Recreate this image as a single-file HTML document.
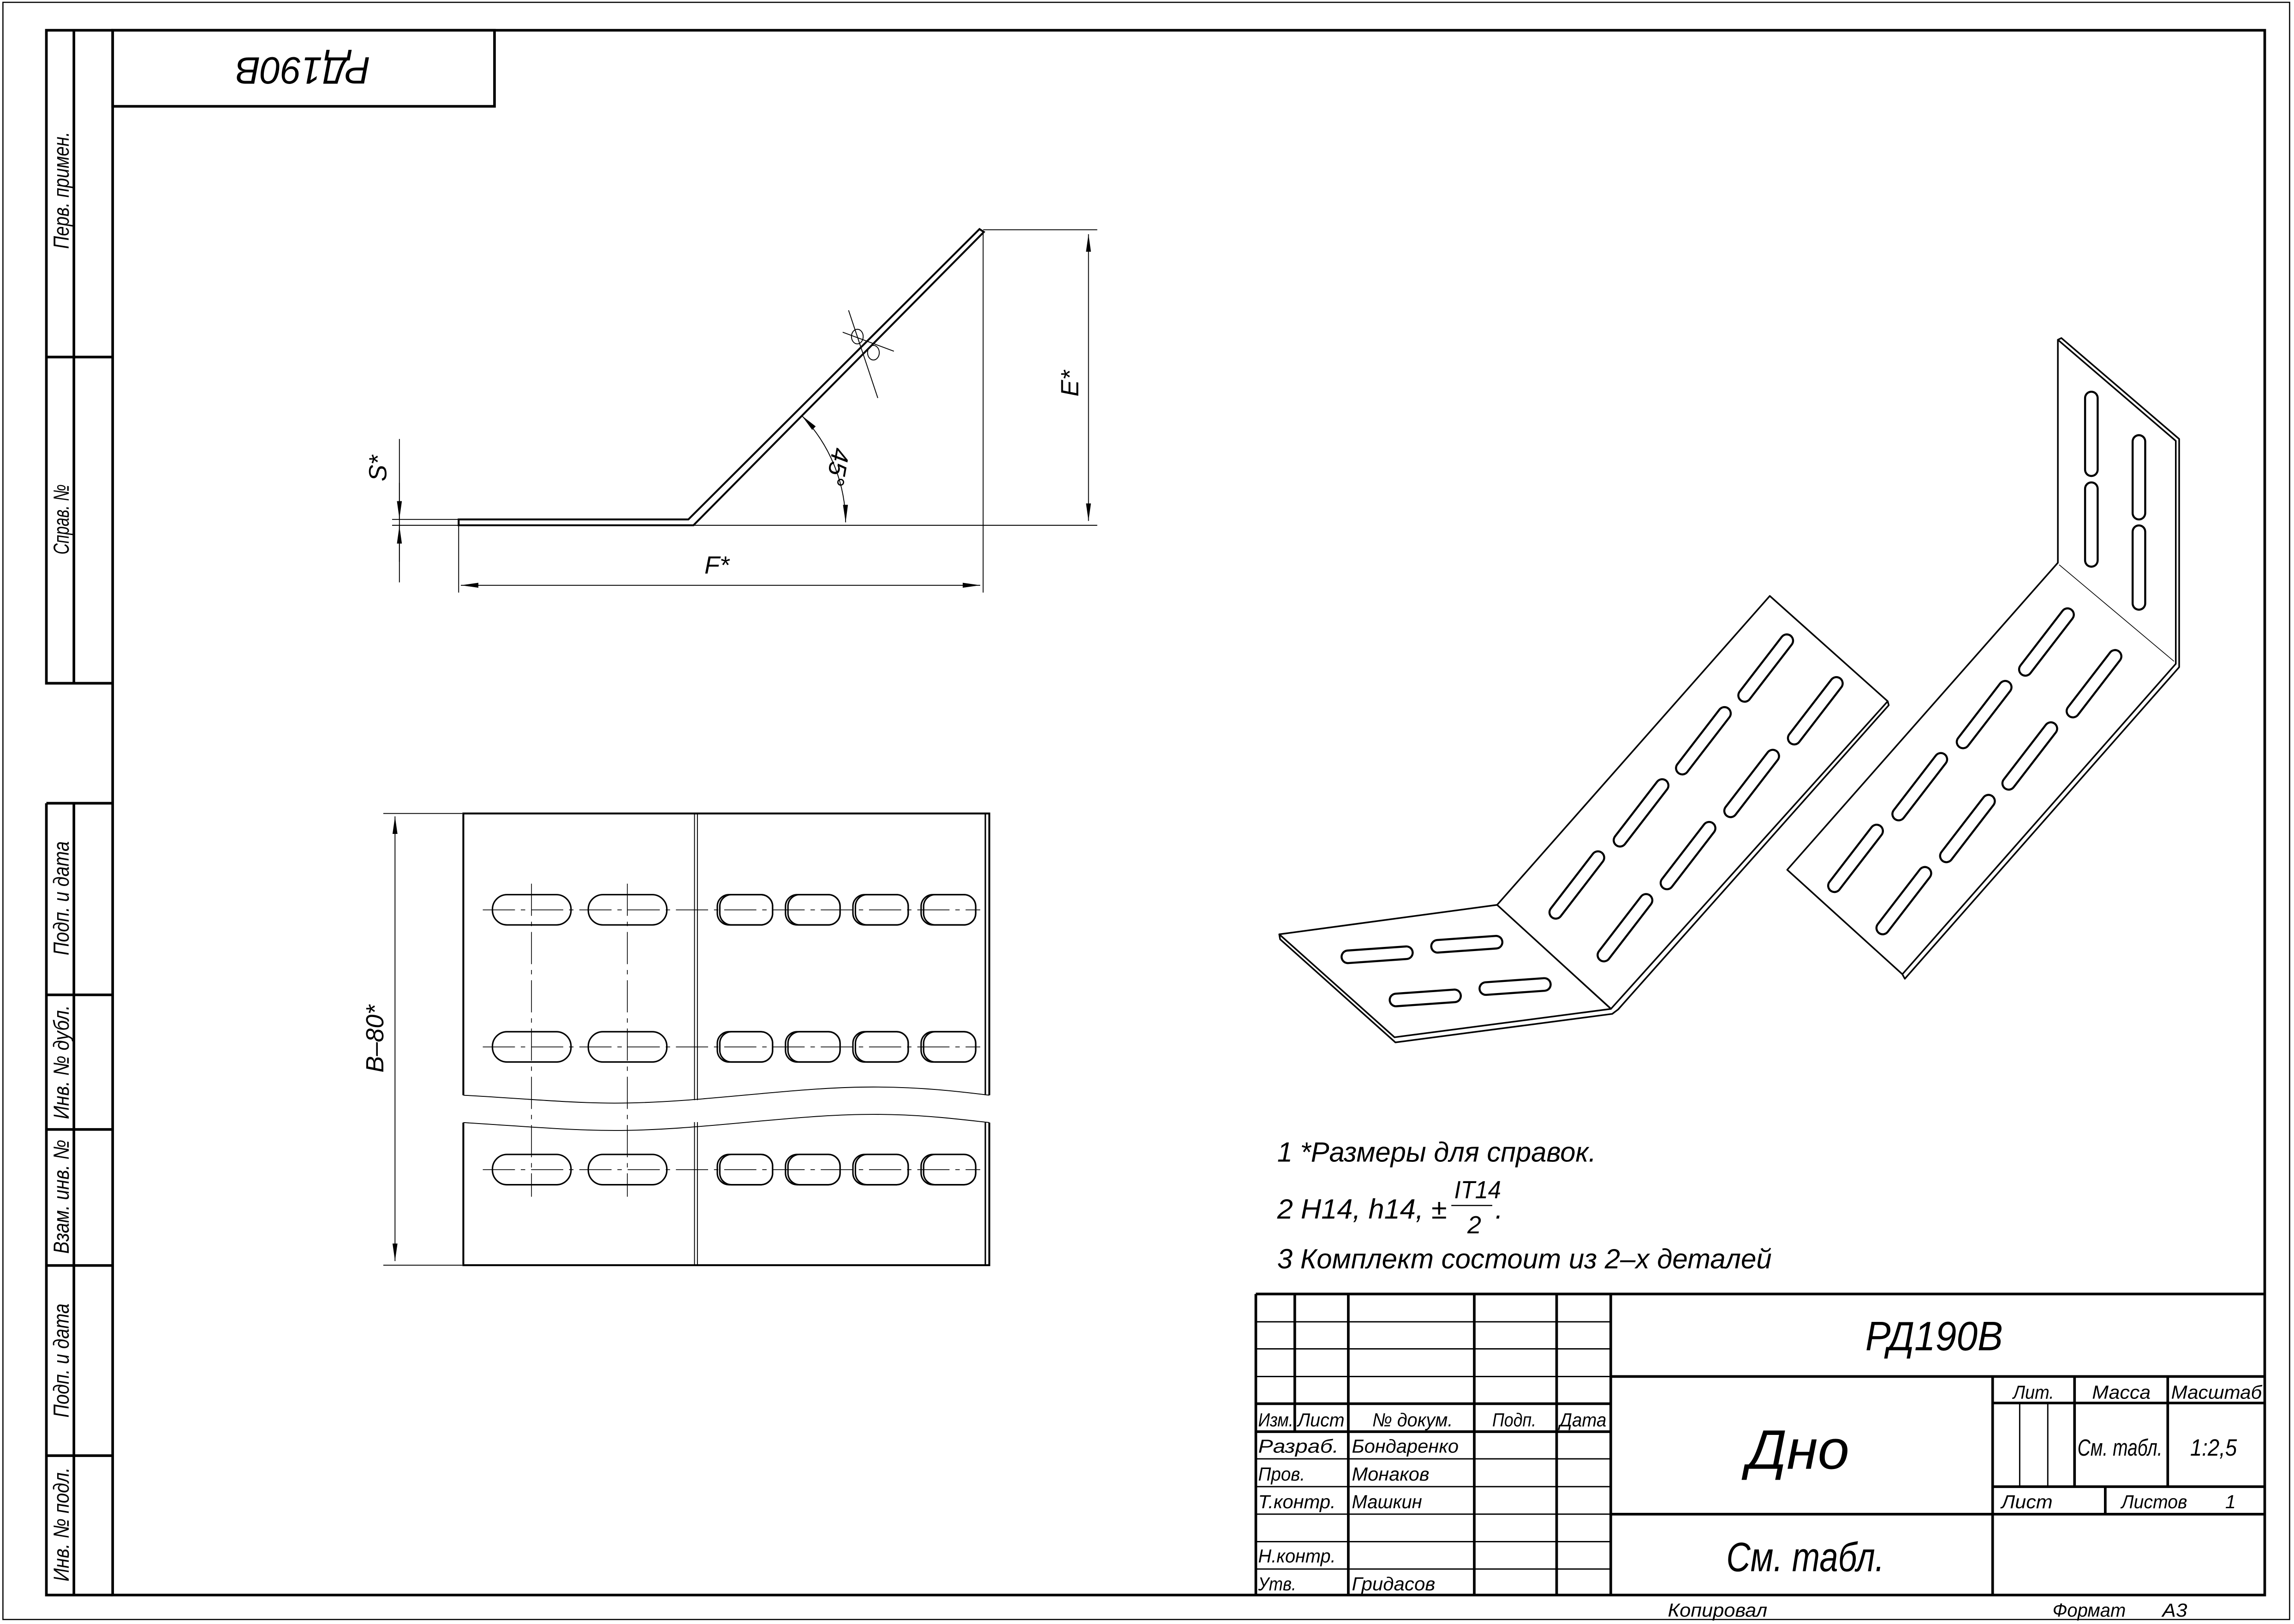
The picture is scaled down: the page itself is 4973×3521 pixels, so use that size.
<!DOCTYPE html>
<html><head><meta charset="utf-8"><style>
html,body{margin:0;padding:0;background:#fff;}
svg{display:block;}
text{font-family:"Liberation Sans Narrow","Liberation Sans",sans-serif;font-style:italic;fill:#000;}
</style></head><body>
<svg width="4973" height="3521" viewBox="0 0 1568 1110" xmlns="http://www.w3.org/2000/svg">
<defs>
<marker id="ar" viewBox="0 0 12 4" refX="12" refY="2" markerWidth="12" markerHeight="4" markerUnits="userSpaceOnUse" orient="auto-start-reverse"><path d="M0,0.3 L12,2 L0,3.7 Z" fill="#000"/></marker>
</defs>
<rect width="1568" height="1110" fill="#fff"/>
<rect x="2" y="1.5" width="1563" height="1105.5" fill="none" stroke="#000" stroke-width="0.8"/>
<g fill="none" stroke="#000" stroke-width="1.8">
<rect x="77" y="20.6" width="1471" height="1069.7"/>
<path d="M77,20.6 H31.7 V467 H77 M31.7,549 H77 M31.7,549 V1090.3 H77 M50.5,20.6 V467 M50.5,549 V1090.3 M31.7,244 H77 M31.7,680 H77 M31.7,772 H77 M31.7,865 H77 M31.7,995 H77"/>
<rect x="77" y="20.6" width="261" height="52"/>
</g>
<text transform="translate(207,46) rotate(180)" font-size="26" text-anchor="middle" dominant-baseline="middle" textLength="92" lengthAdjust="spacingAndGlyphs">РД190В</text>
<g font-size="15">
<text transform="translate(47,130) rotate(-90)" text-anchor="middle" textLength="80" lengthAdjust="spacingAndGlyphs">Перв. примен.</text>
<text transform="translate(47,355) rotate(-90)" text-anchor="middle" textLength="48" lengthAdjust="spacingAndGlyphs">Справ. №</text>
<text transform="translate(47,614) rotate(-90)" text-anchor="middle" textLength="78" lengthAdjust="spacingAndGlyphs">Подп. и дата</text>
<text transform="translate(47,726) rotate(-90)" text-anchor="middle" textLength="78" lengthAdjust="spacingAndGlyphs">Инв. № дубл.</text>
<text transform="translate(47,818) rotate(-90)" text-anchor="middle" textLength="78" lengthAdjust="spacingAndGlyphs">Взам. инв. №</text>
<text transform="translate(47,930) rotate(-90)" text-anchor="middle" textLength="78" lengthAdjust="spacingAndGlyphs">Подп. и дата</text>
<text transform="translate(47,1042) rotate(-90)" text-anchor="middle" textLength="78" lengthAdjust="spacingAndGlyphs">Инв. № подл.</text>
</g>

<!-- side view -->
<g fill="none" stroke="#000">
<path d="M313.5,355 H470.5 L669.5,156.5 L672.5,158.5 L474,359 H313.5 Z" stroke-width="1.3"/>
<g stroke-width="0.6">
<path d="M672,159 V405 M313.5,359 V405 M672,157 H750 M474,359 H750 M268,355 H313 M268,359 H313 M273,300 V398"/>
<line x1="744" y1="160" x2="744" y2="356" marker-start="url(#ar)" marker-end="url(#ar)"/>
<line x1="315" y1="400" x2="670" y2="400" marker-start="url(#ar)" marker-end="url(#ar)"/>
<line x1="273" y1="330" x2="273" y2="354.5" marker-end="url(#ar)"/>
<line x1="273" y1="384" x2="273" y2="359.5" marker-end="url(#ar)"/>
<path d="M548,284 A106,106 0 0 1 578,357" marker-start="url(#ar)" marker-end="url(#ar)"/>
<path d="M580,212 L600,272 M576,227 L611,240"/>
<ellipse cx="586" cy="230" rx="4" ry="5"/>
<ellipse cx="597" cy="241" rx="4" ry="5"/>
</g>
</g>
<text transform="translate(737,262) rotate(-90)" font-size="17" text-anchor="middle">E*</text>
<text x="490" y="392" font-size="17" text-anchor="middle">F*</text>
<text transform="translate(264,320) rotate(-90)" font-size="17" text-anchor="middle">S*</text>
<text transform="translate(567,318) rotate(100)" font-size="17" text-anchor="middle">45°</text>

<!-- plan view -->
<g fill="none" stroke="#000">
<path d="M316.7,748.6 V556 H676.2 V748.6 M316.7,767.3 V864.8 H676.2 V767.3" stroke-width="1.3"/>
<path d="M673.5,556 V748.6 M673.5,767.3 V864.8" stroke-width="1"/>
<path d="M474.7,556 V752 M476.7,556 V752 M474.7,767 V864.8 M476.7,767 V864.8" stroke-width="0.6"/>
<path d="M316.7,748.6 C360,751 390,754 420,754 C480,754 540,743 597,743 C630,743 655,746 676.2,748.6" stroke-width="0.6"/>
<path d="M316.7,767.3 C360,770 390,772.7 420,772.7 C480,772.7 540,761.7 597,761.7 C630,761.7 655,765 676.2,767.3" stroke-width="0.6"/>
<g stroke-width="0.5" stroke-dasharray="22,4,3,4">
<path d="M330,621.9 H670 M330,715.6 H670 M330,799.5 H670 M363.3,604 V818 M428.8,604 V818"/>
</g>
<g stroke-width="1">
<g id="rowL">
<rect x="336.6" y="611.5" width="53.7" height="20.7" rx="10"/>
<rect x="402.1" y="611.5" width="53.7" height="20.7" rx="10"/>
<rect x="490.3" y="611.5" width="37.8" height="20.7" rx="8"/>
<rect x="492" y="611.5" width="36.1" height="20.7" rx="8"/>
<rect x="536.9" y="611.5" width="37.3" height="20.7" rx="8"/>
<rect x="538.6" y="611.5" width="35.6" height="20.7" rx="8"/>
<rect x="583" y="611.5" width="37.8" height="20.7" rx="8"/>
<rect x="584.7" y="611.5" width="36.1" height="20.7" rx="8"/>
<rect x="629.6" y="611.5" width="37.3" height="20.7" rx="8"/>
<rect x="631.3" y="611.5" width="35.6" height="20.7" rx="8"/>
</g>
<use href="#rowL" y="93.7"/>
<use href="#rowL" y="177.6"/>
</g>
<g stroke-width="0.6">
<line x1="270" y1="558" x2="270" y2="862" marker-start="url(#ar)" marker-end="url(#ar)"/>
<path d="M262,556 H316 M262,864.8 H316"/>
</g>
</g>
<text transform="translate(262,710) rotate(-90)" font-size="17" text-anchor="middle">B–80*</text>

<!-- 3D view -->
<g fill="none" stroke="#000" stroke-width="1.1" stroke-linejoin="round">
<path d="M874.4,638.6 L1023.3,618.5 L1101.1,689.6 L953.2,709 Z"/>
<path d="M874.4,638.6 L875,642 L953.8,712.5 L1102,693 L1106,690 L1291,482 L1290.3,479.3 L1209.7,407.3 L1023.3,618.5"/>
<path d="M1101.1,689.6 L1290.3,479.3" />
<path d="M1024.5,619.5 L1101,689" stroke-width="0.5"/>
<path d="M1221.6,594.5 L1406.6,384.6 L1406.6,232.2 L1487.2,301.3 L1487.2,453.7 L1300.3,665.9 Z"/>
<path d="M1406.6,232.2 L1409,231 L1489.5,300 L1489.5,456 L1302,669 L1300.3,665.9"/>
<path d="M1407.5,386 L1486,452" stroke-width="0.5"/>
</g>
<g fill="none" stroke-linecap="round">
<g stroke="#000" stroke-width="10">
<path d="M1192.5,475.3 L1221.3,437.9 M1149.9,525 L1178.7,487.6 M1107.3,574.3 L1136.1,536.9 M1063.4,623.6 L1092.2,586.2
M1226.4,504.5 L1255.2,467.1 M1182.9,554.2 L1211.7,516.8 M1139.4,603.5 L1168.2,566.1 M1096.3,652.8 L1125.1,615.4
M1384.4,457.5 L1413.2,420.1 M1341.8,507.1 L1370.6,469.7 M1297.8,556.4 L1326.6,519 M1253.9,605.4 L1282.7,568
M1416.9,486 L1445.7,448.6 M1373,535.4 L1401.8,498 M1330.4,585 L1359.2,547.6 M1286.9,634.3 L1315.7,596.9
M1429.5,272 V321 M1429.5,334 V383 M1462,301.7 V350.7 M1462,363.4 V412.4
M921.3,654 L961.3,651.2 M982.6,646.8 L1022.6,644 M954.2,683.5 L994.2,680.7 M1015.6,675.7 L1055.6,672.9"/>
</g>
<g stroke="#fff" stroke-width="7.2">
<path d="M1192.5,475.3 L1221.3,437.9 M1149.9,525 L1178.7,487.6 M1107.3,574.3 L1136.1,536.9 M1063.4,623.6 L1092.2,586.2
M1226.4,504.5 L1255.2,467.1 M1182.9,554.2 L1211.7,516.8 M1139.4,603.5 L1168.2,566.1 M1096.3,652.8 L1125.1,615.4
M1384.4,457.5 L1413.2,420.1 M1341.8,507.1 L1370.6,469.7 M1297.8,556.4 L1326.6,519 M1253.9,605.4 L1282.7,568
M1416.9,486 L1445.7,448.6 M1373,535.4 L1401.8,498 M1330.4,585 L1359.2,547.6 M1286.9,634.3 L1315.7,596.9
M1429.5,272 V321 M1429.5,334 V383 M1462,301.7 V350.7 M1462,363.4 V412.4
M921.3,654 L961.3,651.2 M982.6,646.8 L1022.6,644 M954.2,683.5 L994.2,680.7 M1015.6,675.7 L1055.6,672.9"/>
</g>
</g>

<!-- notes -->
<g font-size="19">
<text x="873" y="794" textLength="218" lengthAdjust="spacingAndGlyphs">1  *Размеры для справок.</text>
<text x="873" y="833" textLength="116" lengthAdjust="spacingAndGlyphs">2 H14, h14, ±</text>
<text x="994" y="819" font-size="17" textLength="32" lengthAdjust="spacingAndGlyphs">IT14</text>
<text x="1003" y="843" font-size="17">2</text>
<text x="1022" y="833">.</text>
<text x="873" y="867" textLength="338" lengthAdjust="spacingAndGlyphs">3 Комплект состоит из 2–х деталей</text>
</g>
<line x1="992" y1="824" x2="1020" y2="824" stroke="#000" stroke-width="0.8"/>

<!-- title block -->
<g fill="none" stroke="#000">
<g stroke-width="1.8">
<path d="M858.4,884.5 H1548 M858.4,884.5 V1090.3 M885,884.5 V978.6 M921.6,884.5 V1090.3 M1007.7,884.5 V1090.3 M1064,884.5 V1090.3 M1101,884.5 V1090.3
M858.4,959.5 H1101 M858.4,978.6 H1101 M1101,940.9 H1548 M1101,1035 H1548 M1362,940.9 V1090.3 M1362,959 H1548 M1362,1016.2 H1548 M1418,940.9 V1016.2 M1481.7,940.9 V1016.2 M1439,1016.2 V1035"/>
</g>
<g stroke-width="0.9">
<path d="M858.4,903.5 H1101 M858.4,922 H1101 M858.4,940.9 H1101 M858.4,997.2 H1101 M858.4,1016.2 H1101 M858.4,1035 H1101 M858.4,1053.8 H1101 M858.4,1072.5 H1101 M1380.5,959 V1016.2 M1399.7,959 V1016.2"/>
</g>
</g>
<g font-size="13">
<text x="860" y="975" textLength="24" lengthAdjust="spacingAndGlyphs">Изм.</text>
<text x="887" y="975" textLength="32" lengthAdjust="spacingAndGlyphs">Лист</text>
<text x="938" y="975" textLength="55" lengthAdjust="spacingAndGlyphs">№ докум.</text>
<text x="1020" y="975" textLength="30" lengthAdjust="spacingAndGlyphs">Подп.</text>
<text x="1066" y="975" textLength="32" lengthAdjust="spacingAndGlyphs">Дата</text>
<text x="860" y="993" textLength="55" lengthAdjust="spacingAndGlyphs">Разраб.</text>
<text x="924" y="993" textLength="73" lengthAdjust="spacingAndGlyphs">Бондаренко</text>
<text x="860" y="1012" textLength="32" lengthAdjust="spacingAndGlyphs">Пров.</text>
<text x="924" y="1012" textLength="53" lengthAdjust="spacingAndGlyphs">Монаков</text>
<text x="860" y="1031" textLength="53" lengthAdjust="spacingAndGlyphs">Т.контр.</text>
<text x="924" y="1031" textLength="48" lengthAdjust="spacingAndGlyphs">Машкин</text>
<text x="860" y="1068" textLength="53" lengthAdjust="spacingAndGlyphs">Н.контр.</text>
<text x="860" y="1087" textLength="26" lengthAdjust="spacingAndGlyphs">Утв.</text>
<text x="924" y="1087" textLength="57" lengthAdjust="spacingAndGlyphs">Гридасов</text>
<text x="1376" y="956" textLength="28" lengthAdjust="spacingAndGlyphs">Лит.</text>
<text x="1430" y="956" textLength="40" lengthAdjust="spacingAndGlyphs">Масса</text>
<text x="1484" y="956" textLength="62" lengthAdjust="spacingAndGlyphs">Масштаб</text>
<text x="1420" y="995" font-size="16" textLength="58" lengthAdjust="spacingAndGlyphs">См. табл.</text>
<text x="1497" y="995" font-size="16" textLength="32" lengthAdjust="spacingAndGlyphs">1:2,5</text>
<text x="1368" y="1031" textLength="35" lengthAdjust="spacingAndGlyphs">Лист</text>
<text x="1450" y="1031" textLength="45" lengthAdjust="spacingAndGlyphs">Листов</text>
<text x="1521" y="1031">1</text>
<text x="1140" y="1105" textLength="68" lengthAdjust="spacingAndGlyphs">Копировал</text>
<text x="1403" y="1105" textLength="50" lengthAdjust="spacingAndGlyphs">Формат</text>
<text x="1478" y="1105" textLength="17" lengthAdjust="spacingAndGlyphs">А3</text>
</g>
<text x="1322" y="923" font-size="28" text-anchor="middle" textLength="94" lengthAdjust="spacingAndGlyphs">РД190В</text>
<text x="1194" y="1004" font-size="38" textLength="70" lengthAdjust="spacingAndGlyphs">Дно</text>
<text x="1180" y="1074" font-size="28" textLength="108" lengthAdjust="spacingAndGlyphs">См. табл.</text>
</svg>
</body></html>
